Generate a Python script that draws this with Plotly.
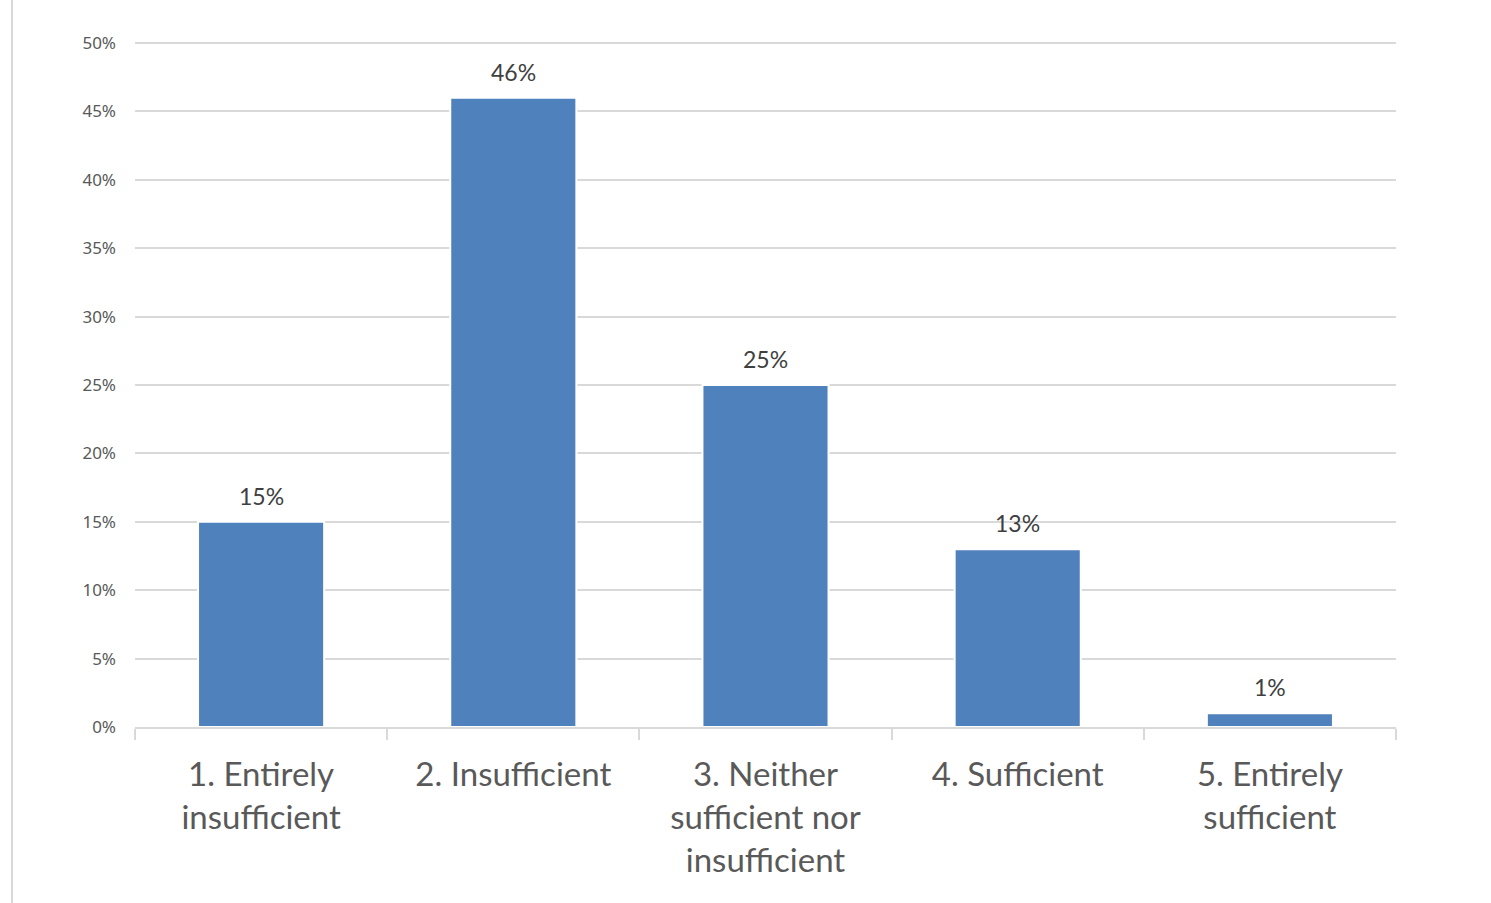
import plotly.graph_objects as go

categories = ["1. Entirely<br>insufficient", "2. Insufficient", "3. Neither<br>sufficient nor<br>insufficient", "4. Sufficient", "5. Entirely<br>sufficient"]
values = [0.15, 0.46, 0.25, 0.13, 0.01]
labels = ["15%", "46%", "25%", "13%", "1%"]
y_ticks = [0, 0.05, 0.10, 0.15, 0.20, 0.25, 0.30, 0.35, 0.40, 0.45, 0.50]

W, H = 1491, 903
ml, mr, mt, mb = 135, 95, 41, 176
pw, ph = W - ml - mr, H - mt - mb

fig = go.Figure()
fig.add_trace(go.Bar(
    x=categories, y=values, width=0.5,
    marker=dict(color="#4F81BD", line=dict(color="#FFFFFF", width=2)),
    hoverinfo="skip",
))
for c, v, t in zip(categories, values, labels):
    fig.add_annotation(x=c, y=v, text=t, showarrow=False, yanchor="bottom", yshift=10,
                       font=dict(family="Lato, Open Sans, sans-serif", size=23, color="#404040"))

fig.add_shape(type="line", xref="paper", yref="paper",
              x0=(12 - ml) / pw, x1=(12 - ml) / pw, y0=-mb / ph, y1=1 + mt / ph,
              line=dict(color="#D9D9D9", width=2))

fig.update_layout(
    width=W, height=H, margin=dict(l=ml, r=mr, t=mt, b=mb, pad=0),
    paper_bgcolor="white", plot_bgcolor="white", showlegend=False,
    font=dict(family="Lato, Open Sans, sans-serif", color="#595959"),
    bargap=0.5,
)
fig.update_xaxes(
    type="category", tickson="boundaries", ticks="outside", ticklen=11, tickwidth=1.5,
    tickcolor="#D9D9D9", showline=True, linecolor="#D9D9D9", linewidth=1.5,
    showgrid=False, tickfont=dict(size=33, color="#595959"), ticklabelstandoff=18,
)
fig.update_yaxes(
    range=[0, 0.5015], tickvals=y_ticks, tickformat=".0%", showgrid=True, gridcolor="#D9D9D9",
    gridwidth=1.5, zeroline=False, showline=False,
    tickfont=dict(family="Noto Sans, Open Sans, sans-serif", size=17, color="#595959"),
    ticks="", ticklabelstandoff=18,
)
fig.write_html("out.html")
